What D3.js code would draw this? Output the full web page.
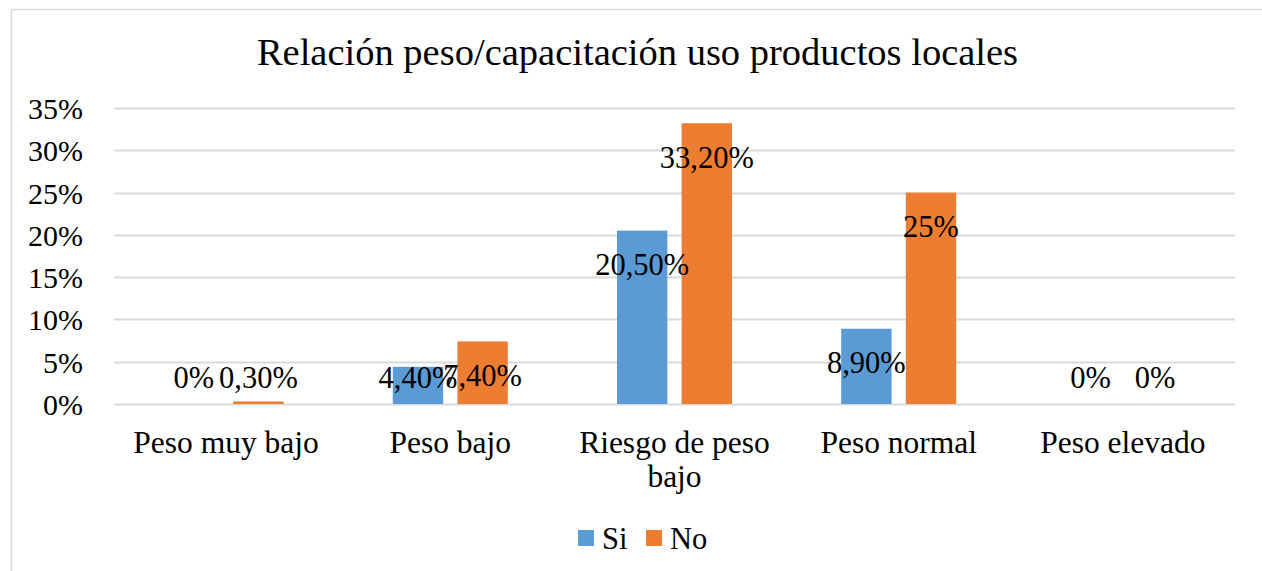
<!DOCTYPE html>
<html>
<head>
<meta charset="utf-8">
<script src="https://cdn.jsdelivr.net/npm/d3@7"></script>
<style>
  html, body { margin: 0; padding: 0; background: #ffffff; }
  svg { display: block; }
  text { font-family: "Liberation Serif", "Times New Roman", serif; fill: #000; }
</style>
</head>
<body>
<svg id="chart" width="1262" height="571"></svg>
<script>
// Weight categories and the share of each group (with / without training)
const categories = ["Peso muy bajo", "Peso bajo", "Riesgo de peso bajo", "Peso normal", "Peso elevado"];
const categoryLines = [["Peso muy bajo"], ["Peso bajo"], ["Riesgo de peso", "bajo"], ["Peso normal"], ["Peso elevado"]];
const series = ["Si", "No"];
const siValues = [0, 4.4, 20.5, 8.9, 0];
const noValues = [0.3, 7.4, 33.2, 25, 0];
const siLabels = ["0%", "4,40%", "20,50%", "8,90%", "0%"];
const noLabels = ["0,30%", "7,40%", "33,20%", "25%", "0%"];
const yTicks = [0, 5, 10, 15, 20, 25, 30, 35];
const yTickLabels = ["0%", "5%", "10%", "15%", "20%", "25%", "30%", "35%"];
const colors = { Si: "#5B9BD5", No: "#ED7D31" };
const title = "Relación peso/capacitación uso productos locales";

const svg = d3.select("#chart");
const W = 1262, H = 571;
const plot = { left: 114, right: 1235, top: 108, bottom: 404 };

// chart frame
svg.append("rect")
  .attr("x", 11.5).attr("y", 9.5)
  .attr("width", W + 10).attr("height", H + 10)
  .attr("fill", "none").attr("stroke", "#D9D9D9").attr("stroke-width", 1.5);

const x0 = d3.scaleBand().domain(categories).range([plot.left, plot.right]).padding(0);
const bw = x0.bandwidth();
const x1 = d3.scaleBand().domain(series)
  .range([bw / 2 - 57.5, bw / 2 + 57.5]).paddingInner(0.22).paddingOuter(0);
const y = d3.scaleLinear().domain([0, 35]).range([plot.bottom, plot.top]);

// gridlines
svg.append("g").selectAll("line").data(yTicks).join("line")
  .attr("x1", plot.left).attr("x2", plot.right)
  .attr("y1", d => Math.round(y(d)) + 0.5).attr("y2", d => Math.round(y(d)) + 0.5)
  .attr("stroke", "#D9D9D9").attr("stroke-width", 2);

// y axis labels
const yAxis = d3.axisLeft(y).tickValues(yTicks)
  .tickFormat((d, i) => yTickLabels[i]).tickSize(0).tickPadding(0);
const gy = svg.append("g").attr("transform", `translate(83,0)`).call(yAxis);
gy.select(".domain").remove();
gy.selectAll("text").style("font-family", "Liberation Serif, serif").style("font-size", "30px").attr("fill", "#000").attr("dy", "0.35em");

// bars
const rows = categories.map((c, i) => ({ c, i, vals: [
  { s: "Si", v: siValues[i], label: siLabels[i] },
  { s: "No", v: noValues[i], label: noLabels[i] }
]}));

const groups = svg.append("g").selectAll("g").data(rows).join("g")
  .attr("transform", d => `translate(${x0(d.c)},0)`);

groups.selectAll("rect").data(d => d.vals).join("rect")
  .attr("x", d => x1(d.s))
  .attr("width", x1.bandwidth())
  .attr("y", d => y(d.v))
  .attr("height", d => y(0) - y(d.v))
  .attr("fill", d => colors[d.s]);

// data labels, inside the end of each bar, kept above the baseline
groups.selectAll("text.lbl").data(d => d.vals).join("text")
  .attr("class", "lbl")
  .attr("x", d => x1(d.s) + x1.bandwidth() / 2)
  .attr("y", d => Math.min(y(d.v) + 34, y(0) - 27))
  .attr("dy", "0.35em")
  .attr("text-anchor", "middle")
  .style("font-size", "30.5px")
  .text(d => d.label);

// category labels
const catG = svg.append("g").selectAll("text").data(categories).join("text")
  .attr("x", d => x0(d) + bw / 2)
  .attr("y", 442)
  .attr("text-anchor", "middle")
  .style("font-size", "31.5px");
catG.each(function (d, i) {
  const t = d3.select(this);
  categoryLines[i].forEach((line, j) => {
    t.append("tspan").attr("x", x0(d) + bw / 2).attr("dy", j === 0 ? "0.35em" : "34px").text(line);
  });
});

// title
svg.append("text")
  .attr("x", 637.5).attr("y", 52).attr("dy", "0.35em")
  .attr("text-anchor", "middle")
  .style("font-size", "38.5px")
  .text(title);

// legend
const legend = svg.append("g").selectAll("g").data(series).join("g")
  .attr("transform", (d, i) => `translate(${i === 0 ? 578 : 646},530)`);
legend.append("rect").attr("width", 16).attr("height", 16).attr("fill", d => colors[d]);
legend.append("text").attr("x", 24).attr("y", 8).attr("dy", "0.35em")
  .style("font-size", "30.5px").text(d => d);
</script>
</body>
</html>
